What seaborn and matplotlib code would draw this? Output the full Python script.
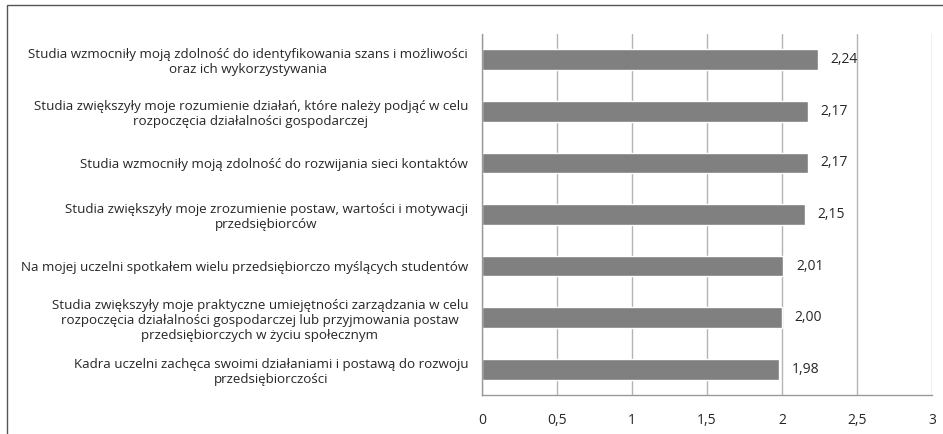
import matplotlib
matplotlib.use("Agg")
import matplotlib.pyplot as plt
import seaborn as sns
import pandas as pd
from matplotlib.patches import Rectangle

# data
statements = [
    "Studia wzmocniły moją zdolność do identyfikowania szans i możliwości\noraz ich wykorzystywania",
    "Studia zwiększyły moje rozumienie działań, które należy podjąć w celu\nrozpoczęcia działalności gospodarczej",
    "Studia wzmocniły moją zdolność do rozwijania sieci kontaktów",
    "Studia zwiększyły moje zrozumienie postaw, wartości i motywacji\nprzedsiębiorców",
    "Na mojej uczelni spotkałem wielu przedsiębiorczo myślących studentów",
    "Studia zwiększyły moje praktyczne umiejętności zarządzania w celu\nrozpoczęcia działalności gospodarczej lub przyjmowania postaw\nprzedsiębiorczych w życiu społecznym",
    "Kadra uczelni zachęca swoimi działaniami i postawą do rozwoju\nprzedsiębiorczości",
]
scores = [2.24, 2.17, 2.17, 2.15, 2.01, 2.00, 1.98]
x_ticks = [0, 0.5, 1, 1.5, 2, 2.5, 3]
x_tick_labels = ["0", "0,5", "1", "1,5", "2", "2,5", "3"]

df = pd.DataFrame({"statement": statements, "score": scores})

sns.set_style("white")
plt.rcParams["font.family"] = ["Open Sans", "DejaVu Sans"]

fig = plt.figure(figsize=(9.43, 4.34), dpi=100)
ax = fig.add_axes([482 / 943, 1 - 395 / 434, (932 - 482) / 943, (395 - 34) / 434])

sns.barplot(data=df, x="score", y="statement", color="#808080", saturation=1,
            width=0.4, orient="h", ax=ax)

ax.set_xlim(0, 3)
ax.set_ylim(len(statements) - 0.5, -0.5)
ax.set_xticks(x_ticks)
ax.set_xticklabels(x_tick_labels, fontsize=10)
ax.set_xlabel("")
ax.set_ylabel("")
ax.grid(axis="x", color="#b4b4b4", linewidth=1)
ax.set_axisbelow(True)

# category labels, centred lines, right edge near the axis
ax.set_yticks(range(len(statements)))
ax.set_yticklabels(statements, fontsize=9.6)
for lbl in ax.get_yticklabels():
    lbl.set_multialignment("center")
ax.tick_params(axis="y", length=0, pad=10)
ax.tick_params(axis="x", length=4, color="#999999", pad=9)

# minor ticks at category boundaries on the y axis
ax.set_yticks([i - 0.5 for i in range(len(statements) + 1)], minor=True)
ax.tick_params(axis="y", which="minor", length=4, color="#999999", direction="out")

for side in ["top", "right"]:
    ax.spines[side].set_visible(False)
for side in ["left", "bottom"]:
    ax.spines[side].set_color("#999999")
    ax.spines[side].set_linewidth(1)

ax.bar_label(ax.containers[0], labels=[f"{v:.2f}".replace(".", ",") for v in scores],
             padding=9, fontsize=10)

# outer frame like the source document
fig.patches.append(Rectangle((7 / 943, -0.1), 1.2, 1.1 - 5 / 434, transform=fig.transFigure,
                             fill=False, edgecolor="#555555", linewidth=1))

fig.savefig("out.png", dpi=100)
